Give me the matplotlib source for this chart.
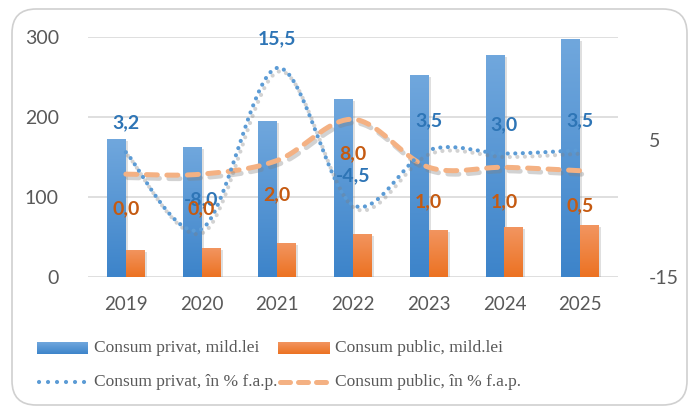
import numpy as np
import matplotlib
matplotlib.use('Agg')
import matplotlib.pyplot as plt
from matplotlib.patches import FancyBboxPatch
from matplotlib.lines import Line2D
import matplotlib.patheffects as pe
from matplotlib.colors import LinearSegmentedColormap

plt.rcParams['axes.unicode_minus'] = False

# ---------------- data ----------------
years = ['2019', '2020', '2021', '2022', '2023', '2024', '2025']
privat_bn = [172.5, 162.5, 195, 222.5, 252.5, 277.5, 297.5]
public_bn = [34, 36, 42.5, 54, 59, 62.5, 65]
privat_pct = [3.2, -8.0, 15.5, -4.5, 3.5, 3.0, 3.5]
public_pct = [0.0, 0.0, 2.0, 8.0, 1.0, 1.0, 0.5]
privat_lbl = ['3,2', '-8,0', '15,5', '-4,5', '3,5', '3,0', '3,5']
public_lbl = ['0,0', '0,0', '2,0', '8,0', '1,0', '1,0', '0,5']
left_ticks = [0, 100, 200, 300]
right_ticks = [-15, 5]
legend_labels = ['Consum privat, mild.lei', 'Consum public, mild.lei',
                 'Consum privat, în % f.a.p.', 'Consum public, în % f.a.p.']

# ---------------- style ----------------
FONT = 'Lato'
TICK_C = '#595959'
BLUE_TOP, BLUE_BOT = '#70A7DD', '#3D84CA'
OR_TOP, OR_BOT = '#F29560', '#EC7222'
LINE_BLUE = '#5B9BD5'
LINE_OR = '#F4B183'
LBL_BLUE = '#2E75B6'
LBL_OR = '#C55A11'

W, H = 690, 408
fig = plt.figure(figsize=(W / 100, H / 100), dpi=100)
fig.patch.set_facecolor('white')

# rounded frame
frame = FancyBboxPatch((12 / W, 3 / H), 675 / W, 396 / H,
                       boxstyle='round,pad=0,rounding_size=0.035',
                       transform=fig.transFigure, facecolor='none',
                       edgecolor='#D0D0D0', linewidth=1.2, zorder=-5,
                       mutation_aspect=W / H)
fig.patches.append(frame)

ax = fig.add_axes([88 / W, 1 - 277 / H, 530 / W, 240 / H])
ax.set_facecolor('none')
x = np.arange(len(years))
ax.set_xlim(-0.5, len(years) - 0.5)
ax.set_ylim(0, 300)
for s in ax.spines.values():
    s.set_visible(False)
ax.set_yticks(left_ticks)
ax.yaxis.grid(True, color='#D9D9D9', linewidth=1.2)
ax.set_axisbelow(True)
ax.tick_params(axis='y', length=0, pad=21, labelsize=14, labelcolor=TICK_C)
ax.set_xticks(x)
ax.set_xticklabels(years)
ax.tick_params(axis='x', length=0, pad=14, labelsize=13.5, labelcolor=TICK_C)
for lab in ax.get_xticklabels() + ax.get_yticklabels():
    lab.set_fontfamily(FONT)

bw = 0.25
grad = np.linspace(0, 1, 100).reshape(-1, 1)
cmap_b = LinearSegmentedColormap.from_list('b', [BLUE_BOT, BLUE_TOP])
cmap_o = LinearSegmentedColormap.from_list('o', [OR_BOT, OR_TOP])


def gradient_bars(xs, hs, cmap, color):
    bars = ax.bar(xs, hs, width=bw, color=color, zorder=2,
                  path_effects=[pe.SimplePatchShadow(offset=(1.5, -1.5), alpha=0.25,
                                                     shadow_rgbFace='gray'),
                                pe.Normal()])
    for b in bars:
        x0, y0 = b.get_x(), b.get_y()
        im = ax.imshow(grad, extent=[x0, x0 + b.get_width(), y0, y0 + b.get_height()],
                       origin='lower', cmap=cmap, aspect='auto', zorder=2.1,
                       interpolation='bilinear')
        im.set_clip_path(b)
    return bars


gradient_bars(x - bw / 2, privat_bn, cmap_b, '#5B9BD5')
gradient_bars(x + bw / 2, public_bn, cmap_o, '#ED7D31')
ax.set_xlim(-0.5, len(years) - 0.5)
ax.set_ylim(0, 300)

ax2 = ax.twinx()
ax2.set_ylim(-15, 20)
for s in ax2.spines.values():
    s.set_visible(False)
ax2.set_yticks(right_ticks)
ax2.tick_params(axis='y', length=0, pad=22, labelsize=14, labelcolor=TICK_C)
for lab in ax2.get_yticklabels():
    lab.set_fontfamily(FONT)


def smooth(xv, yv, n=40):
    xv = np.asarray(xv, float)
    yv = np.asarray(yv, float)
    P = np.column_stack([xv, yv])
    P = np.vstack([P[0], P, P[-1]])
    out = []
    t = np.linspace(0, 1, n, endpoint=False)[:, None]
    for i in range(1, len(P) - 2):
        p0, p1, p2, p3 = P[i - 1], P[i], P[i + 1], P[i + 2]
        c1 = p1 + (p2 - p0) / 6
        c2 = p2 - (p3 - p1) / 6
        seg = ((1 - t) ** 3) * p1 + 3 * ((1 - t) ** 2) * t * c1 + 3 * (1 - t) * t ** 2 * c2 + t ** 3 * p2
        out.append(seg)
    out.append(P[-2][None, :])
    out = np.vstack(out)
    return out[:, 0], out[:, 1]


shadow = [pe.SimpleLineShadow(offset=(1.5, -2.5), shadow_color='gray', alpha=0.35),
          pe.Normal()]
sx, sy = smooth(x, public_pct)
ax2.plot(sx, sy, color=LINE_OR, lw=3.6, linestyle=(0, (2.2, 1.9)),
         dash_capstyle='round', zorder=3, path_effects=shadow)
sx, sy = smooth(x, privat_pct)
ax2.plot(sx, sy, color=LINE_BLUE, lw=3.0, linestyle=(0, (0.01, 1.8)),
         dash_capstyle='round', zorder=4, path_effects=shadow)

for i in range(len(years)):
    ax2.annotate(privat_lbl[i], (x[i], privat_pct[i]), xytext=(0, 21),
                 textcoords='offset points', ha='center', va='center',
                 fontsize=14, fontweight='bold', color=LBL_BLUE,
                 fontfamily=FONT, zorder=6)
    ax2.annotate(public_lbl[i], (x[i], public_pct[i]), xytext=(0, -25),
                 textcoords='offset points', ha='center', va='center',
                 fontsize=14, fontweight='bold', color=LBL_OR,
                 fontfamily=FONT, zorder=6)

# ---------------- legend (manual) ----------------
LFONT = 'Liberation Serif'
lfs = 12.5
row_y = [1 - 348 / H, 1 - 382 / H]
col_x = [37 / W, 278 / W]
hw = 51 / W
text_dx = 57 / W

# row 1: patches with gradient look
for j, (ct, cb) in enumerate([(BLUE_TOP, BLUE_BOT), (OR_TOP, OR_BOT)]):
    hx = col_x[j]
    hax = fig.add_axes([hx, row_y[0] - 6 / H, hw, 12 / H])
    hax.imshow(grad, cmap=LinearSegmentedColormap.from_list('g%d' % j, [cb, ct]),
               aspect='auto', origin='lower', extent=[0, 1, 0, 1])
    hax.axis('off')
    fig.text(hx + text_dx, row_y[0], legend_labels[j], fontsize=lfs,
             fontfamily=LFONT, color=TICK_C, va='center', ha='left')

# row 2: lines
fig.add_artist(Line2D([col_x[0] + 2 / W, col_x[0] + hw - 2 / W], [row_y[1], row_y[1]],
                      transform=fig.transFigure, color=LINE_BLUE, lw=3.0,
                      linestyle=(0, (0.01, 2.15)), dash_capstyle='round'))
fig.text(col_x[0] + text_dx, row_y[1], legend_labels[2], fontsize=lfs,
         fontfamily=LFONT, color=TICK_C, va='center', ha='left')
fig.add_artist(Line2D([col_x[1] + 2 / W, col_x[1] + hw - 2 / W], [row_y[1], row_y[1]],
                      transform=fig.transFigure, color=LINE_OR, lw=3.6,
                      linestyle=(0, (2.0, 1.6)), dash_capstyle='round'))
fig.text(col_x[1] + text_dx, row_y[1], legend_labels[3], fontsize=lfs,
         fontfamily=LFONT, color=TICK_C, va='center', ha='left')

fig.savefig('out.png', dpi=100, facecolor='white')
